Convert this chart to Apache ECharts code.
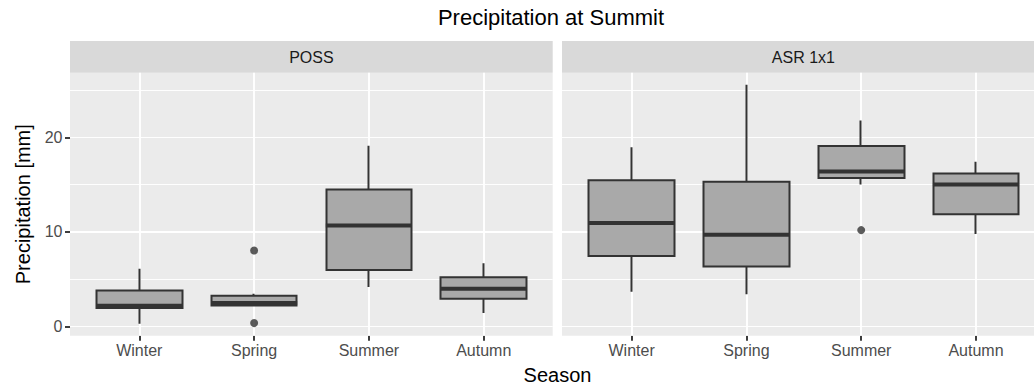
<!DOCTYPE html>
<html>
<head>
<meta charset="utf-8">
<script src="https://cdn.jsdelivr.net/npm/echarts@6/dist/echarts.min.js"></script>
<style>html,body{margin:0;padding:0;background:#fff}#c{width:1034px;height:389px}</style>
</head>
<body>
<div id="c"></div>
<script>
// ---- data ----
const seasons = ['Winter', 'Spring', 'Summer', 'Autumn'];
const panels = ['POSS', 'ASR 1x1'];
const yTicks = [0, 10, 20];
// POSS boxplot statistics per season
const possLow    = [0.28, 2.22, 4.16, 1.41];
const possQ1     = [1.94, 2.22, 5.96, 2.93];
const possMedian = [2.19, 2.47, 10.69, 3.99];
const possQ3     = [3.81, 3.25, 14.50, 5.19];
const possHigh   = [6.11, 3.46, 19.12, 6.67];
const possOutliers = [['Spring', 8.03], ['Spring', 0.35]];
// ASR 1x1 boxplot statistics per season
const asrLow    = [3.67, 3.39, 15.03, 9.77];
const asrQ1     = [7.44, 6.35, 15.70, 11.88];
const asrMedian = [10.93, 9.70, 16.40, 15.03];
const asrQ3     = [15.48, 15.31, 19.08, 16.19];
const asrHigh   = [18.97, 25.58, 21.80, 17.43];
const asrOutliers = [['Summer', 10.19]];

const Y_MIN = -0.985, Y_MAX = 26.85;
const FONT = '"Liberation Sans", Arial, Helvetica, sans-serif';

function candle(low, q1, q3, high) {
  return seasons.map((s, i) => [q1[i], q3[i], low[i], high[i]]);
}
function medians(med) {
  return seasons.map((s, i) => [i, med[i]]);
}

const chart = echarts.init(document.getElementById('c'), null, {renderer: 'svg'});

const PANEL_TOP = 72.7, PANEL_H = 263;
const grids = [
  {left: 70, top: PANEL_TOP, width: 482.7, height: PANEL_H, show: true, backgroundColor: '#EBEBEB', borderWidth: 0},
  {left: 81.9, top: PANEL_TOP, width: 459.2, height: PANEL_H, show: false},
  {left: 562, top: PANEL_TOP, width: 472, height: PANEL_H, show: true, backgroundColor: '#EBEBEB', borderWidth: 0},
  {left: 574.2, top: PANEL_TOP, width: 459.2, height: PANEL_H, show: false}
];

function labelXAxis(gi) {
  return {
    type: 'category', gridIndex: gi, data: seasons, position: 'bottom', boundaryGap: true,
    axisLine: {show: false, onZero: false},
    axisTick: {show: true, alignWithLabel: true, length: 5, lineStyle: {color: '#333333', width: 1.9}},
    axisLabel: {show: true, margin: 7, fontSize: 16, color: '#4D4D4D', fontFamily: FONT},
    splitLine: {show: false}
  };
}
function gridXAxis(gi) {
  return {
    type: 'category', gridIndex: gi, data: seasons, position: 'bottom', boundaryGap: true, z: 1,
    axisLine: {show: false, onZero: false},
    axisTick: {show: true, inside: true, alignWithLabel: true, length: PANEL_H, lineStyle: {color: '#FFFFFF', width: 1.9}},
    axisLabel: {show: false},
    splitLine: {show: false}
  };
}
function hiddenX(gi) {
  return {type: 'value', gridIndex: gi, min: 0, max: 1, show: false, axisLine: {onZero: false}};
}
function majorY(gi, withLabels) {
  return {
    type: 'value', gridIndex: gi, position: 'left', min: Y_MIN, max: Y_MAX,
    minInterval: 10, maxInterval: 10,
    axisLine: {show: false, onZero: false},
    axisTick: {show: withLabels, length: 5, customValues: yTicks, lineStyle: {color: '#333333', width: 1.9}},
    axisLabel: {show: withLabels, margin: 7.5, fontSize: 16, color: '#4D4D4D', fontFamily: FONT,
      customValues: yTicks,
      formatter: v => (yTicks.indexOf(Math.round(v * 1000) / 1000) >= 0 ? String(Math.round(v)) : '')},
    splitLine: {show: true, showMinLine: false, showMaxLine: false, lineStyle: {color: '#FFFFFF', width: 1.9}},
    name: withLabels ? 'Precipitation [mm]' : '',
    nameLocation: 'middle', nameGap: 37, nameRotate: 90,
    nameTextStyle: {fontSize: 20, color: '#000000', fontFamily: FONT}
  };
}
function minorY(gi) {
  return {
    type: 'value', gridIndex: gi, position: 'left', min: Y_MIN, max: Y_MAX,
    minInterval: 5, maxInterval: 5,
    axisLine: {show: false, onZero: false}, axisTick: {show: false}, axisLabel: {show: false},
    splitLine: {show: true, showMinLine: false, showMaxLine: false, lineStyle: {color: '#FFFFFF', width: 0.95}}
  };
}
function hiddenY(gi) {
  return {type: 'value', gridIndex: gi, min: Y_MIN, max: Y_MAX, show: false, axisLine: {onZero: false}, splitLine: {show: false}};
}

const boxStyle = {color: '#A9A9A9', color0: '#A9A9A9', borderColor: '#333333', borderColor0: '#333333', borderColorDoji: '#333333', borderWidth: 2};

function medianSeries(xi, yi, med) {
  return {
    type: 'custom', xAxisIndex: xi, yAxisIndex: yi, z: 3, silent: true,
    data: medians(med),
    renderItem: function (params, api) {
      const p = api.coord([api.value(0), api.value(1)]);
      const w = api.size([1, 0])[0] * 0.75;
      return {type: 'line', shape: {x1: p[0] - w / 2, y1: p[1], x2: p[0] + w / 2, y2: p[1]},
        style: {stroke: '#333333', lineWidth: 4}};
    }
  };
}

const option = {
  animation: false,
  backgroundColor: '#FFFFFF',
  title: [{
    text: 'Precipitation at Summit', left: 551, top: 6, textAlign: 'center', padding: 0,
    textStyle: {fontSize: 22, fontWeight: 'normal', color: '#000000', fontFamily: FONT}
  }, {
    text: 'Season', left: 557.5, top: 365, textAlign: 'center', padding: 0,
    textStyle: {fontSize: 20, fontWeight: 'normal', color: '#000000', fontFamily: FONT}
  }],
  graphic: [
    {type: 'rect', shape: {x: 70, y: 41, width: 482.7, height: 31.7}, style: {fill: '#D9D9D9'}, silent: true},
    {type: 'rect', shape: {x: 562, y: 41, width: 472, height: 31.7}, style: {fill: '#D9D9D9'}, silent: true},
    {type: 'text', x: 311.4, y: 57, style: {text: panels[0], fill: '#1A1A1A', fontSize: 16, fontFamily: FONT, align: 'center', verticalAlign: 'middle'}, silent: true},
    {type: 'text', x: 803.4, y: 57, style: {text: panels[1], fill: '#1A1A1A', fontSize: 16, fontFamily: FONT, align: 'center', verticalAlign: 'middle'}, silent: true}
  ],
  grid: grids,
  xAxis: [labelXAxis(1), gridXAxis(1), labelXAxis(3), gridXAxis(3), hiddenX(0), hiddenX(2)],
  yAxis: [majorY(0, true), minorY(0), hiddenY(1), majorY(2, false), minorY(2), hiddenY(3)],
  series: [
    {type: 'candlestick', name: panels[0], xAxisIndex: 0, yAxisIndex: 2, barWidth: '75%', silent: true,
      itemStyle: boxStyle, data: candle(possLow, possQ1, possQ3, possHigh)},
    medianSeries(0, 2, possMedian),
    {type: 'scatter', xAxisIndex: 0, yAxisIndex: 2, symbolSize: 8, silent: true, z: 4,
      itemStyle: {color: '#333333'}, data: possOutliers},
    {type: 'candlestick', name: panels[1], xAxisIndex: 2, yAxisIndex: 5, barWidth: '75%', silent: true,
      itemStyle: boxStyle, data: candle(asrLow, asrQ1, asrQ3, asrHigh)},
    medianSeries(2, 5, asrMedian),
    {type: 'scatter', xAxisIndex: 2, yAxisIndex: 5, symbolSize: 8, silent: true, z: 4,
      itemStyle: {color: '#333333'}, data: asrOutliers}
  ]
};
chart.setOption(option);
</script>
</body>
</html>
